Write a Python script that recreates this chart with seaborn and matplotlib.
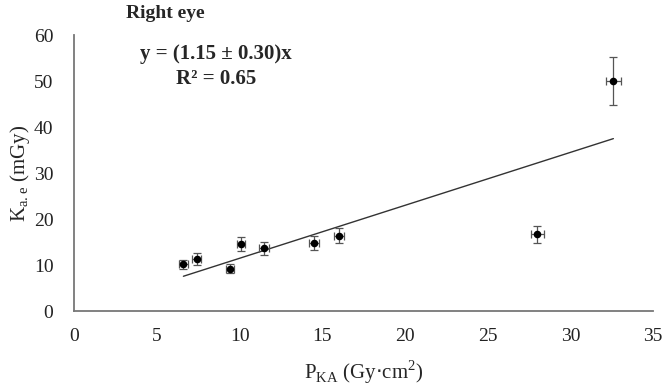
import matplotlib
matplotlib.use("Agg")
import matplotlib.pyplot as plt
import numpy as np
import pandas as pd
import seaborn as sns

pka = [6.6, 7.4, 9.4, 10.1, 11.5, 14.5, 16.0, 28.0, 32.6]
kae = [10.2, 11.4, 9.2, 14.6, 13.7, 14.9, 16.4, 16.7, 50.0]
pka_err = [0.25, 0.25, 0.25, 0.25, 0.3, 0.3, 0.3, 0.4, 0.45]
kae_err = [1.0, 1.3, 1.0, 1.5, 1.4, 1.5, 1.6, 1.8, 5.2]

slope = 1.15
slope_err = 0.30
r2 = 0.65

df = pd.DataFrame({"pka": pka, "kae": kae})
x_fit = np.array([min(pka), max(pka)])
fit = pd.DataFrame({"pka": x_fit, "kae": slope * x_fit})

sns.set_style("white")
plt.rcParams["font.family"] = ["Liberation Serif", "DejaVu Serif"]

fig = plt.figure(figsize=(6.63, 3.89), dpi=100)
ax = fig.add_axes([0.112, 0.2, 0.873, 0.71])

# Error bars
ax.errorbar(pka, kae, xerr=pka_err, yerr=kae_err, fmt="none",
            ecolor="#555555", elinewidth=0.9, capsize=3, capthick=0.9, zorder=2)
# Points
sns.scatterplot(data=df, x="pka", y="kae", ax=ax, color="black", s=30,
                edgecolor="black", linewidth=0, zorder=3)
# Fit line
sns.lineplot(data=fit, x="pka", y="kae", ax=ax, color="#333333", linewidth=1.0, zorder=1)

ax.set_xlim(0, 35)
ax.set_ylim(0, 60)
ax.set_xticks(range(0, 36, 5))
ax.set_yticks(range(0, 61, 10))
ax.tick_params(axis="both", length=0, labelsize=14, colors="#222222")
ax.tick_params(axis="x", pad=12)
ax.tick_params(axis="y", pad=15)

for s in ["top", "right"]:
    ax.spines[s].set_visible(False)
for s in ["left", "bottom"]:
    ax.spines[s].set_color("#777777")
    ax.spines[s].set_linewidth(1.3)

ax.set_xlabel(r"P$_{\mathregular{KA}}$ (Gy$\cdot$cm$^{\mathregular{2}}$)", fontsize=15, labelpad=10)
ax.set_ylabel(r"K$_{\mathregular{a.e}}$ (mGy)", fontsize=15, labelpad=1)

fig.text(0.25, 0.965, "Right eye", fontsize=14, fontweight="bold", ha="center", va="center")
ax.text(0.245, 0.93, f"y = ({slope:.2f} ± {slope_err:.2f})x", transform=ax.transAxes,
        fontsize=15, fontweight="bold", ha="center", va="center")
ax.text(0.245, 0.84, f"R² = {r2:.2f}", transform=ax.transAxes,
        fontsize=15, fontweight="bold", ha="center", va="center")

fig.savefig("out.png", dpi=100)
plt.close(fig)
